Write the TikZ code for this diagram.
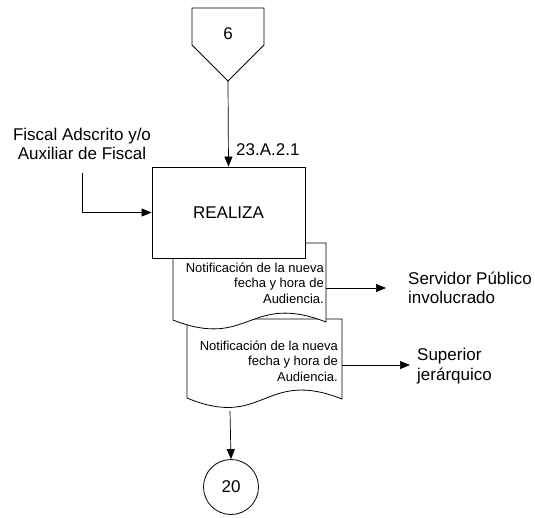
\documentclass[tikz,border=0pt]{standalone}
\usepackage{fontspec}
\setmainfont{Liberation Sans}
\usepackage{tikz}
\usetikzlibrary{arrows.meta}
\newcommand\biglabel{\fontsize{17}{19.5}\selectfont}
\newcommand\doclabel{\fontsize{13}{15.5}\selectfont}
\def\drawshape{\draw[line width=0.8pt, fill=white]}
\def\drawflow{\draw[-{Triangle[length=10pt,width=8pt]}, line width=0.7pt]}
\def\textnode{\node[font=\biglabel, align=left, inner sep=0pt]}
\def\docnode{\node[font=\doclabel, align=right, inner sep=0pt, anchor=east]}

\begin{document}
\begin{tikzpicture}[x=1pt,y=-1pt,line join=miter]
\useasboundingbox (0,0) rectangle (535,517);
\drawshape (192,8) -- (264,8) -- (264,45) -- (228,81) -- (192,45) -- cycle;
\node[font=\biglabel] (six) at (228,34) {6};
\coordinate (offtip) at (228,81);
\drawshape (342,319) -- (187,319) -- (187,398) .. controls (264,430) and (264,368) .. (342,399) -- cycle;
\docnode (doctwo) at (338,361) {Notificación de la nueva\\fecha y hora de\\Audiencia.};
\drawshape (326,243) -- (173,243) -- (173,320) .. controls (249,350) and (249,292) .. (326,322) -- cycle;
\docnode (docone) at (324,283) {Notificación de la nueva\\fecha y hora de\\Audiencia.};
\node[draw, line width=0.8pt, fill=white, minimum width=153pt, minimum height=91pt, font=\biglabel] (realiza) at (228.5,212.5) {REALIZA};
\node[circle, draw, line width=0.8pt, minimum size=55pt, inner sep=0pt, font=\biglabel] (veinte) at (231,487) {20};
\textnode[align=center] (fiscal) at (82,144) {Fiscal Adscrito y/o\\Auxiliar de Fiscal};
\coordinate (fiscalend) at (82,173);
\textnode[anchor=west] (clave) at (236,150) {23.A.2.1};
\textnode[anchor=west] (servidor) at (408,288) {Servidor Público\\involucrado};
\textnode[anchor=west] (superior) at (417,366) {Superior\\jerárquico};
\coordinate (doconeout) at (326,288);
\coordinate (doconetip) at (386,288);
\coordinate (doctwoout) at (342,365);
\coordinate (doctwotip) at (410,365);
\coordinate (doctwobot) at (230,411);
\drawflow (offtip) -- (realiza.north);
\drawflow (fiscalend) |- (realiza.west);
\drawflow (doconeout) -- (doconetip);
\drawflow (doctwoout) -- (doctwotip);
\drawflow (doctwobot) -- (veinte.north);
\end{tikzpicture}
\end{document}
